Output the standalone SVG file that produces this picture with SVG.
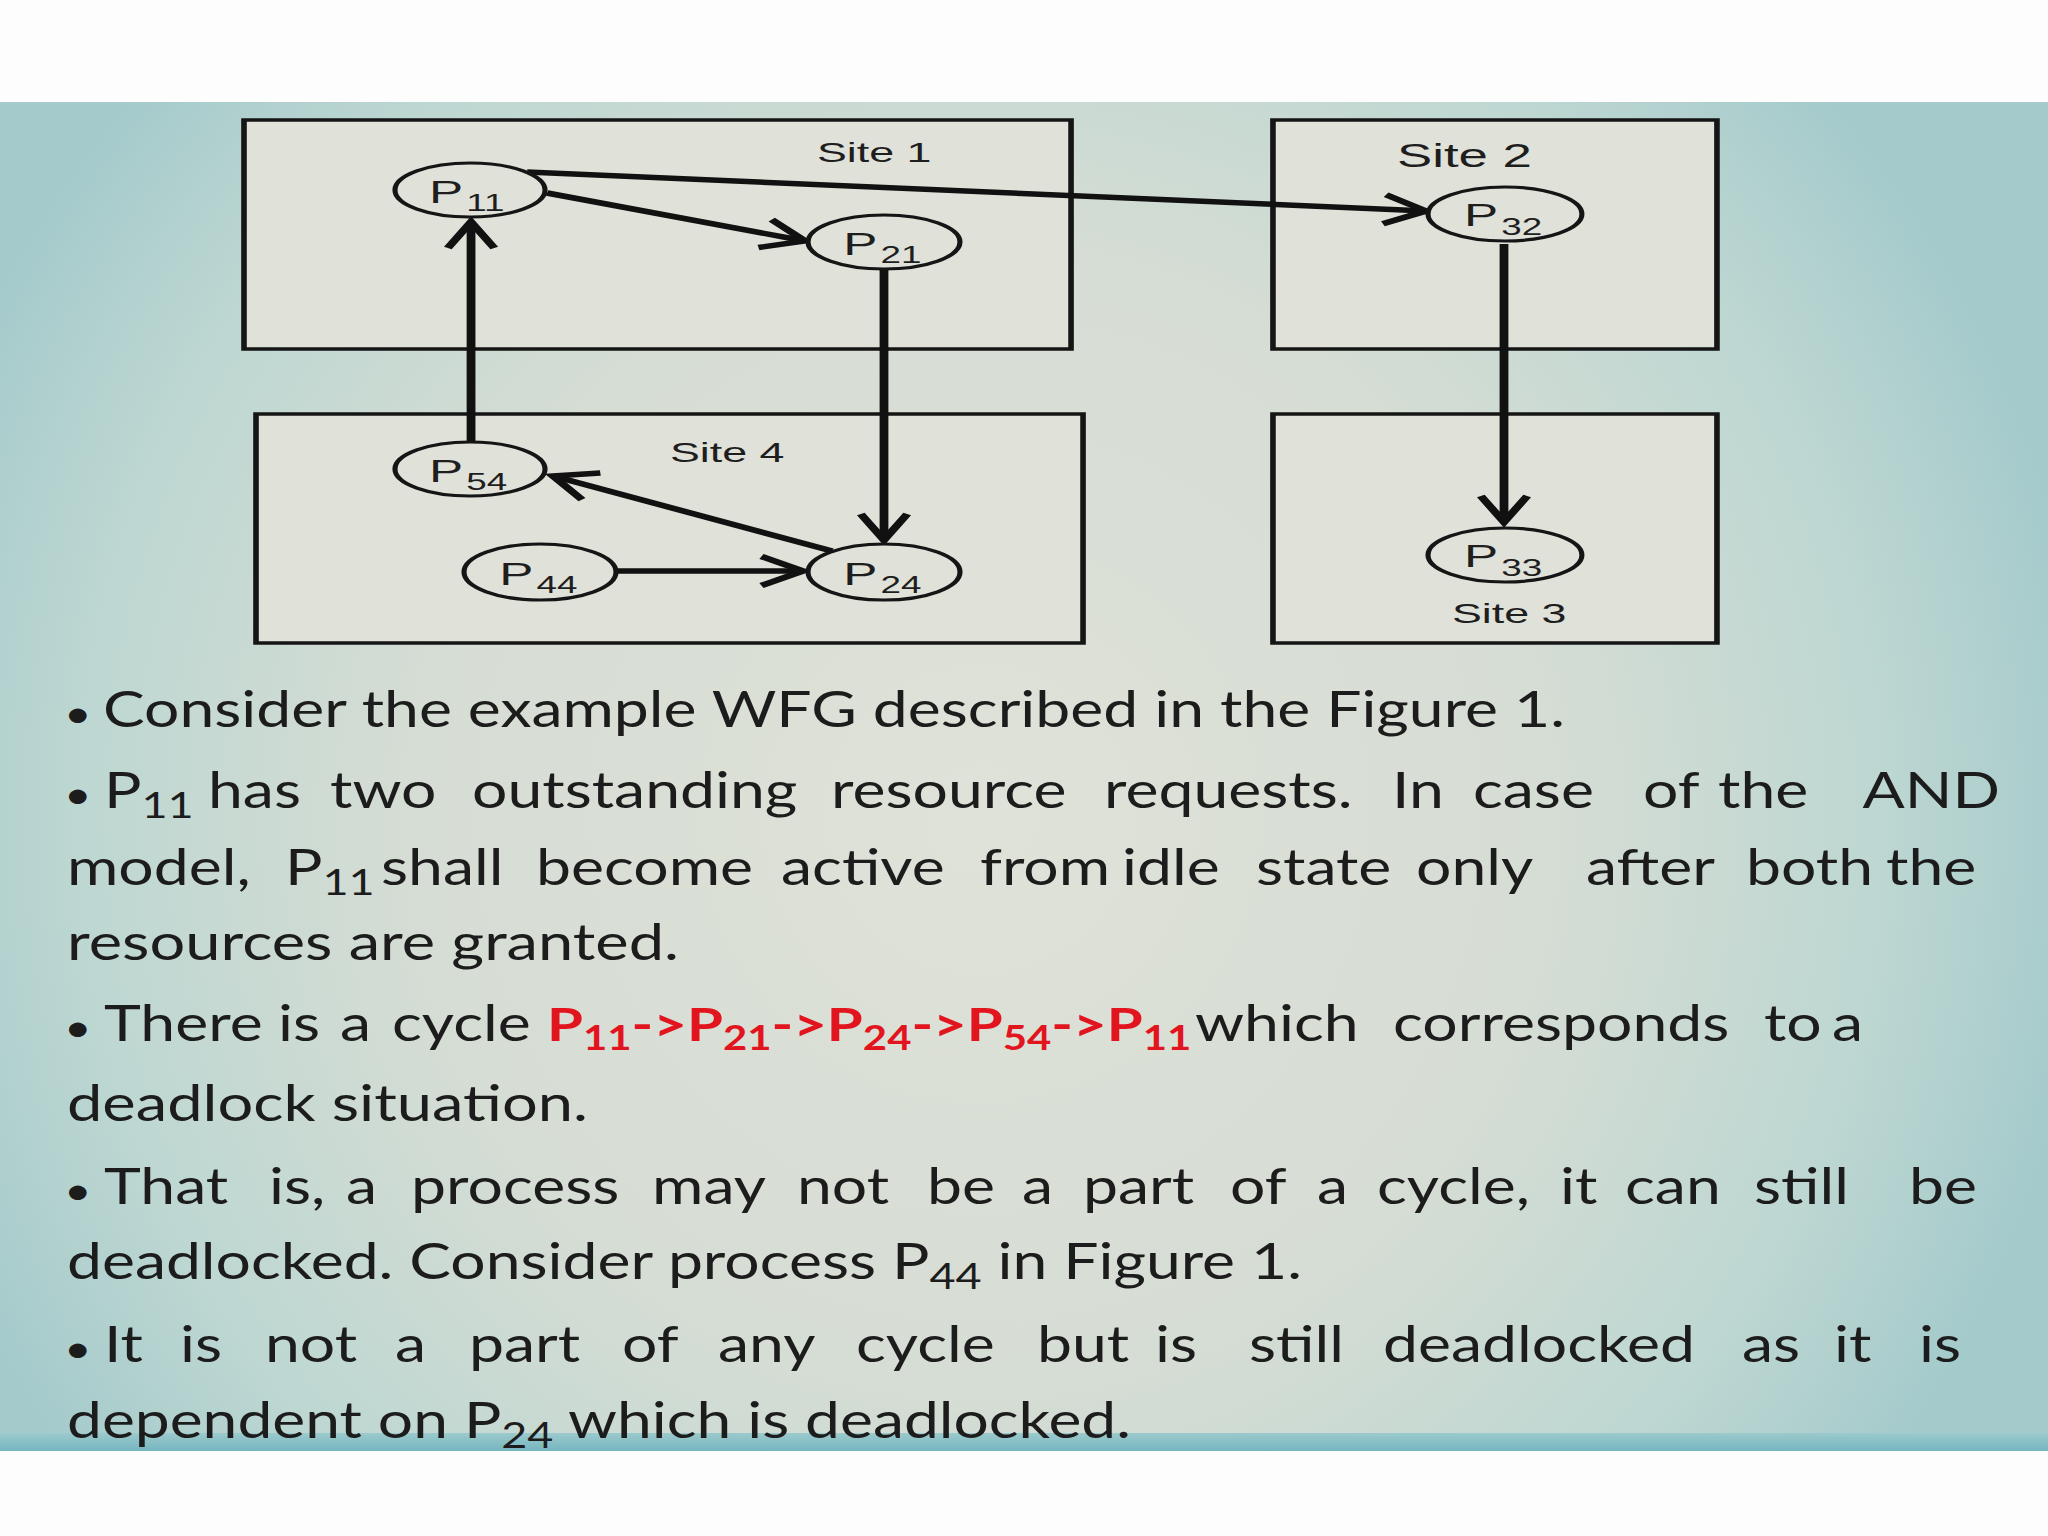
<svg xmlns="http://www.w3.org/2000/svg" width="2048" height="1536" viewBox="0 0 2048 1536">
<defs>
<radialGradient id="bg" gradientUnits="userSpaceOnUse" cx="980" cy="820" r="1120">
<stop offset="0" stop-color="#dfe2d9"/>
<stop offset="0.5" stop-color="#d6ddd4"/>
<stop offset="0.8" stop-color="#bed7d2"/>
<stop offset="1" stop-color="#a4cacb"/>
</radialGradient>
<linearGradient id="bar" x1="0" y1="0" x2="0" y2="1">
<stop offset="0" stop-color="#9ccacc"/>
<stop offset="1" stop-color="#74b6c0"/>
</linearGradient>
<marker id="chev" markerUnits="userSpaceOnUse" orient="auto" markerWidth="60" markerHeight="60" refX="0" refY="0" overflow="visible">
<path d="M-26,-14.5 L0,0 L-26,14.5" fill="none" stroke="#111" stroke-width="5.5"/>
</marker>
<style>
.box{fill:#e0e1d9;stroke:#151515;stroke-width:3.5}
.node ellipse{fill:#e0e1d9;stroke:#151515;stroke-width:3.2}
.lbl{font-family:"Liberation Sans",Arial,sans-serif;fill:#1e1e1e}
.pl{font-size:32px}
.ps{font-size:23px}
.site{font-size:28px}
.site2{font-size:33px}
.edge{stroke:#111;stroke-width:5.5;fill:none;marker-end:url(#chev)}
.t{font-family:Lato,"Open Sans",sans-serif;font-size:50px;fill:#1c1c1c}
.s{font-size:36px}
.bu{font-size:38px}
.r{fill:#e2141e;font-weight:700;font-size:46.5px}
.rs{font-size:33.5px}
</style>
</defs>
<rect x="0" y="0" width="2048" height="1536" fill="#fdfdfd"/>
<rect x="0" y="102" width="2048" height="1349" fill="url(#bg)"/>
<rect x="0" y="1433" width="2048" height="18" fill="url(#bar)"/>

<g id="diagram" transform="scale(1.6 1)">
<g id="site1"><rect class="box" x="152.5" y="120" width="516.9" height="229"/><text class="lbl site" x="510.6" y="162">Site 1</text></g>
<g id="site4"><rect class="box" x="160" y="414" width="516.9" height="229"/><text class="lbl site" x="418.75" y="462">Site 4</text></g>
<g id="site2"><rect class="box" x="795.6" y="120" width="277.5" height="229"/><text class="lbl site2" x="873.1" y="167">Site 2</text></g>
<g id="site3"><rect class="box" x="795.6" y="414" width="277.5" height="229"/><text class="lbl site" x="907.5" y="623">Site 3</text></g>

<g id="connectors">
<line class="edge" x1="329.4" y1="172" x2="891.25" y2="211"/>
<line class="edge" x1="341.9" y1="193" x2="503.1" y2="241"/>
<line class="edge" x1="552.5" y1="270" x2="552.5" y2="540"/>
<line class="edge" x1="520" y1="551" x2="345.6" y2="476"/>
<line class="edge" x1="385" y1="571" x2="501.9" y2="571"/>
<line class="edge" x1="294.4" y1="442" x2="294.4" y2="222"/>
<line class="edge" x1="940" y1="244" x2="940" y2="522"/>
</g>

<g id="P11" class="node"><ellipse cx="293.75" cy="190" rx="46.9" ry="27"/><text class="lbl pl" x="268.1" y="203">P<tspan class="ps" dx="2" dy="8">11</tspan></text></g>
<g id="P21" class="node"><ellipse cx="552.5" cy="242" rx="47.5" ry="27"/><text class="lbl pl" x="527" y="255">P<tspan class="ps" dx="2" dy="8">21</tspan></text></g>
<g id="P54" class="node"><ellipse cx="293.75" cy="469" rx="46.9" ry="27"/><text class="lbl pl" x="268.1" y="482">P<tspan class="ps" dx="2" dy="8">54</tspan></text></g>
<g id="P44" class="node"><ellipse cx="337.5" cy="572" rx="47.5" ry="28"/><text class="lbl pl" x="312" y="585">P<tspan class="ps" dx="2" dy="8">44</tspan></text></g>
<g id="P24" class="node"><ellipse cx="552.5" cy="572" rx="47.5" ry="28"/><text class="lbl pl" x="527" y="585">P<tspan class="ps" dx="2" dy="8">24</tspan></text></g>
<g id="P32" class="node"><ellipse cx="940.6" cy="214" rx="48.1" ry="27"/><text class="lbl pl" x="915" y="226">P<tspan class="ps" dx="2" dy="9">32</tspan></text></g>
<g id="P33" class="node"><ellipse cx="940.6" cy="555" rx="48.1" ry="27"/><text class="lbl pl" x="915" y="567">P<tspan class="ps" dx="2" dy="9">33</tspan></text></g>
</g>

<g id="body" transform="scale(1.25 1)">
<text class="t" y="727"><tspan class="bu" x="51.2">•</tspan> <tspan x="82.4" textLength="1169.6" lengthAdjust="spacingAndGlyphs">Consider the example WFG described in the Figure 1.</tspan></text>
<text class="t" y="808"><tspan class="bu" x="51.2">•</tspan> <tspan x="83.2">P</tspan><tspan class="s" dy="10">11</tspan> <tspan x="166.4" dy="-10">has</tspan> <tspan x="264">two</tspan> <tspan x="377.6">outstanding</tspan> <tspan x="664.8">resource</tspan> <tspan x="883.2">requests.</tspan> <tspan x="1113.6">In</tspan> <tspan x="1178.4">case</tspan> <tspan x="1314.4">of</tspan> <tspan x="1374.4">the</tspan> <tspan x="1490">AND</tspan></text>
<text class="t" y="885"><tspan x="53.6">model,</tspan> <tspan x="228">P</tspan><tspan class="s" dy="10">11</tspan> <tspan x="304.8" dy="-10">shall</tspan> <tspan x="428.8">become</tspan> <tspan x="624.8">active</tspan> <tspan x="784">from</tspan> <tspan x="897.6">idle</tspan> <tspan x="1004.8">state</tspan> <tspan x="1132.8">only</tspan> <tspan x="1268.8">after</tspan> <tspan x="1396.8">both</tspan> <tspan x="1508.8">the</tspan></text>
<text class="t" x="53.6" y="960" textLength="489.6" lengthAdjust="spacingAndGlyphs">resources are granted.</text>
<text class="t" y="1041"><tspan class="bu" x="51.2">•</tspan> <tspan x="83.2">There</tspan> <tspan x="222.4">is</tspan> <tspan x="272">a</tspan> <tspan x="313.6">cycle</tspan> </text>
<text class="t r" x="437.6" y="1041">P<tspan class="rs" dy="9">11</tspan><tspan dy="-9">-&gt;P</tspan><tspan class="rs" dy="9">21</tspan><tspan dy="-9">-&gt;P</tspan><tspan class="rs" dy="9">24</tspan><tspan dy="-9">-&gt;P</tspan><tspan class="rs" dy="9">54</tspan><tspan dy="-9">-&gt;P</tspan><tspan class="rs" dy="9">11</tspan></text>
<text class="t" y="1041"><tspan x="956">which</tspan> <tspan x="1114.4">corresponds</tspan> <tspan x="1411.2">to</tspan> <tspan x="1465.6">a</tspan></text>
<text class="t" x="53.6" y="1121" textLength="416.8" lengthAdjust="spacingAndGlyphs">deadlock situation.</text>
<text class="t" y="1204"><tspan class="bu" x="51.2">•</tspan> <tspan x="83.2">That</tspan> <tspan x="215.2">is,</tspan> <tspan x="276.8">a</tspan> <tspan x="328.8">process</tspan> <tspan x="521.6">may</tspan> <tspan x="637.6">not</tspan> <tspan x="741.6">be</tspan> <tspan x="817.6">a</tspan> <tspan x="866.4">part</tspan> <tspan x="984">of</tspan> <tspan x="1053.6">a</tspan> <tspan x="1101.6">cycle,</tspan> <tspan x="1248">it</tspan> <tspan x="1300">can</tspan> <tspan x="1403.2">still</tspan> <tspan x="1527.2">be</tspan></text>
<text class="t" x="53.6" y="1279" textLength="988" lengthAdjust="spacingAndGlyphs">deadlocked. Consider process P<tspan class="s" dy="10">44</tspan><tspan dy="-10"> in Figure 1.</tspan></text>
<text class="t" y="1362"><tspan class="bu" x="51.2">•</tspan> <tspan x="83.2">It</tspan> <tspan x="144">is</tspan> <tspan x="212">not</tspan> <tspan x="316">a</tspan> <tspan x="375.2">part</tspan> <tspan x="497.6">of</tspan> <tspan x="574.4">any</tspan> <tspan x="684.8">cycle</tspan> <tspan x="829.6">but</tspan> <tspan x="924">is</tspan> <tspan x="999.2">still</tspan> <tspan x="1106.4">deadlocked</tspan> <tspan x="1393.6">as</tspan> <tspan x="1467.2">it</tspan> <tspan x="1535.2">is</tspan></text>
<text class="t" x="53.6" y="1438" textLength="851.2" lengthAdjust="spacingAndGlyphs">dependent on P<tspan class="s" dy="10">24</tspan><tspan dy="-10"> which is deadlocked.</tspan></text>
</g>
</svg>
